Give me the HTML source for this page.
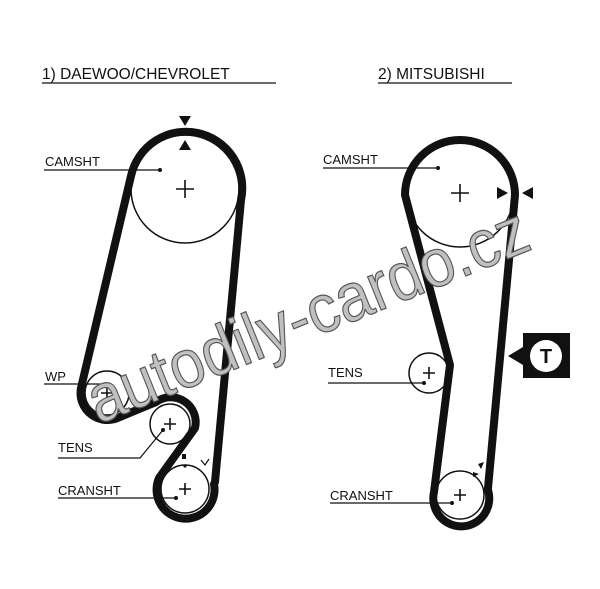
<!DOCTYPE html>
<html><head><style>
html,body{margin:0;padding:0;background:#fff;}
svg{display:block;}
text{font-family:"Liberation Sans",sans-serif;fill:#111;}
</style></head><body>
<svg width="600" height="589" viewBox="0 0 600 589" xmlns="http://www.w3.org/2000/svg">
<rect width="600" height="589" fill="#fff"/>
<text x="42" y="79" font-size="15.5">1) DAEWOO/CHEVROLET</text>
<line x1="42" y1="83" x2="276" y2="83" stroke="#111" stroke-width="1.3"/>
<text x="378" y="79" font-size="15.5">2) MITSUBISHI</text>
<line x1="378" y1="83" x2="512" y2="83" stroke="#111" stroke-width="1.3"/>

<g fill="none" stroke="#111" stroke-width="1.5">
<circle cx="185" cy="189" r="54"/>
<circle cx="107" cy="393" r="22"/>
<circle cx="170" cy="424" r="20"/>
<circle cx="185" cy="489" r="24"/>
<circle cx="460" cy="193" r="54"/>
<circle cx="429" cy="373" r="20"/>
<circle cx="460" cy="495" r="24"/>
</g>
<g stroke="#111" stroke-width="1.6">
<path d="M176 189h18M185 180v18"/>
<path d="M101 393h12M107 387v12"/>
<path d="M164 424h12M170 418v12"/>
<path d="M179 489h12M185 483v12"/>
<path d="M451 193h18M460 184v18"/>
<path d="M423 373h12M429 367v12"/>
<path d="M454 495h12M460 489v12"/>
</g>
<g fill="none" stroke="#111" stroke-width="8" stroke-linejoin="round">
<path d="M215 482 L241 200 A56 56 0 0 0 131 176 L81 388 A27 27 0 0 0 120 417 L156 402 A25 25 0 0 1 195 428 L159 478 A29 29 0 1 0 214 484 Z"/>
<path d="M488 488 L515 195 A55 55 0 0 0 405 195 L450 365 L434 492 A28 28 0 1 0 488 490 Z"/>
</g>
<g fill="#111">
<polygon points="179,116 191,116 185,126"/>
<polygon points="179,150 191,150 185,140"/>
<polygon points="497,187 497,199 508,193"/>
<polygon points="533,187 533,199 522,193"/>
<rect x="182" y="454" width="4" height="5"/>
<polygon points="478,464 484,462 481,469"/>
<polygon points="473,472 479,474 473,477"/>
<rect x="523" y="333" width="47" height="45"/>
<polygon points="508,356 523,347 523,365"/>
</g>
<circle cx="546" cy="356" r="16" fill="#fff"/>
<text x="546" y="363" font-size="20" font-weight="bold" text-anchor="middle">T</text>
<path d="M201 460 l4 5 l4 -6" fill="none" stroke="#111" stroke-width="1.2"/>
<circle cx="185" cy="466" r="1.6" fill="#111"/>

<g font-size="13">
<text x="45" y="166">CAMSHT</text>
<text x="45" y="381">WP</text>
<text x="58" y="452">TENS</text>
<text x="58" y="495">CRANSHT</text>
<text x="323" y="164">CAMSHT</text>
<text x="328" y="377">TENS</text>
<text x="330" y="500">CRANSHT</text>
</g>
<g stroke="#111" stroke-width="1.2" fill="none">
<path d="M44 170 H160"/>
<path d="M44 384 H100"/>
<path d="M58 458 H140 L163 430"/>
<path d="M58 498 H176"/>
<path d="M323 168 H438"/>
<path d="M328 383 H424"/>
<path d="M330 503 H452"/>
</g>
<g fill="#111">
<circle cx="160" cy="170" r="2"/><circle cx="163" cy="430" r="2"/><circle cx="176" cy="498" r="2"/>
<circle cx="438" cy="168" r="2"/><circle cx="424" cy="383" r="2"/><circle cx="452" cy="503" r="2"/>
</g>

<text x="308" y="338" font-size="68" text-anchor="middle" textLength="470" lengthAdjust="spacingAndGlyphs" transform="rotate(-22 308 316)" style="fill:#c0c0c0;stroke:#555;stroke-width:1.2;">autodily-cardo.cz</text>
</svg>
</body></html>
